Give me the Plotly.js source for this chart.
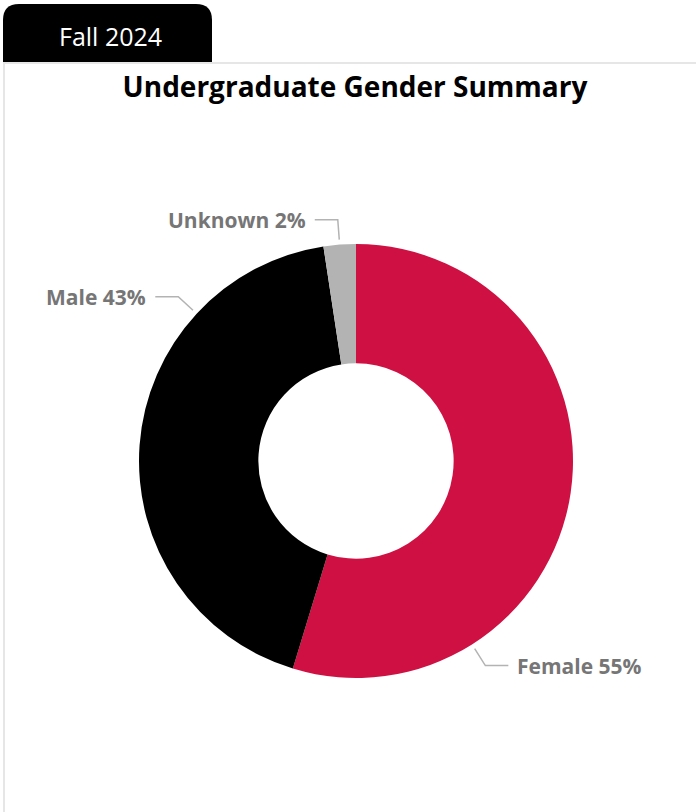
<!DOCTYPE html>
<html>
<head>
<meta charset="utf-8">
<script src="https://cdn.plot.ly/plotly-3.0.1.min.js"></script>
<style>
  html, body { margin: 0; padding: 0; background: #ffffff; }
  #chart { width: 696px; height: 812px; }
</style>
</head>
<body>
<div id="chart"></div>
<script>
// ---- data ----
var categories = ["Female", "Male", "Unknown"];
var shares = [54.7, 42.9, 2.4];
var sliceColors = ["#CF1043", "#000000", "#B3B3B3"];
var periodLabel = "Fall 2024";
var chartTitle = "Undergraduate Gender Summary";

// ---- layout config ----
var W = 696, H = 812;
var cx = 356, cy = 461, R = 217;
var labelFrac = [0.75, 0.75, 0.5];   // where along each slice the leader line starts
var FONT = "'Open Sans', 'Noto Sans', sans-serif";

function px(x) { return x / W; }
function py(y) { return 1 - y / H; }

var total = shares.reduce(function (a, b) { return a + b; }, 0);
var shapes = [];
var annotations = [];

// panel border
shapes.push({
  type: "path", xref: "paper", yref: "paper", layer: "above",
  path: "M " + px(4) + "," + py(H + 5) + " L " + px(4) + "," + py(63) + " L " + px(W + 5) + "," + py(63),
  line: { color: "#E6E6E6", width: 2 }
});
// tab
var tx0 = 3, tx1 = 212, ty0 = 4, ty1 = 62, rr = 16;
shapes.push({
  type: "path", xref: "paper", yref: "paper", layer: "above",
  path: "M " + px(tx0) + "," + py(ty1) +
        " L " + px(tx0) + "," + py(ty0 + rr) +
        " Q " + px(tx0) + "," + py(ty0) + " " + px(tx0 + rr) + "," + py(ty0) +
        " L " + px(tx1 - rr) + "," + py(ty0) +
        " Q " + px(tx1) + "," + py(ty0) + " " + px(tx1) + "," + py(ty0 + rr) +
        " L " + px(tx1) + "," + py(ty1) + " Z",
  fillcolor: "#000000", line: { width: 0 }
});
annotations.push({
  xref: "paper", yref: "paper", x: px(110), y: py(36), xanchor: "center", yanchor: "middle",
  text: periodLabel, showarrow: false,
  font: { family: FONT, size: 25, color: "#FFFFFF" }
});

// leader lines + labels derived from slice angles
var cum = 0;
for (var i = 0; i < shares.length; i++) {
  var startDeg = cum / total * 360;
  var spanDeg = shares[i] / total * 360;
  cum += shares[i];
  var a = (startDeg + labelFrac[i] * spanDeg) * Math.PI / 180;
  var sx = Math.sin(a), sy = -Math.cos(a);
  var x0 = cx + (R + 5) * sx, y0 = cy + (R + 5) * sy;
  var x1 = cx + (R + 25) * sx, y1 = cy + (R + 25) * sy;
  var dir = sx >= 0 ? 1 : -1;
  var x2 = x1 + dir * 23;
  shapes.push({
    type: "path", xref: "paper", yref: "paper", layer: "above",
    path: "M " + px(x0) + "," + py(y0) + " L " + px(x1) + "," + py(y1) + " L " + px(x2) + "," + py(y1),
    line: { color: "#B3B3B3", width: 1.5 }
  });
  annotations.push({
    xref: "paper", yref: "paper", x: px(x2 + dir * 7), y: py(y1),
    xanchor: dir > 0 ? "left" : "right", yanchor: "middle",
    text: "<b>" + categories[i] + " " + Math.round(shares[i] / total * 100) + "%</b>",
    showarrow: false,
    font: { family: FONT, size: 21, color: "#767676" }
  });
}

var trace = {
  type: "pie",
  labels: categories,
  values: shares,
  marker: { colors: sliceColors, line: { width: 0 } },
  hole: 0.45,
  sort: false,
  direction: "clockwise",
  rotation: 0,
  textinfo: "none",
  showlegend: false,
  domain: { x: [px(cx - R), px(cx + R)], y: [py(cy + R), py(cy - R)] }
};

var layout = {
  width: W, height: H,
  margin: { l: 0, r: 0, t: 0, b: 0 },
  paper_bgcolor: "#FFFFFF",
  title: {
    text: "<b>" + chartTitle + "</b>",
    x: px(355), xanchor: "center", xref: "paper",
    y: py(87), yanchor: "middle", yref: "paper",
    font: { family: FONT, size: 28, color: "#000000" }
  },
  shapes: shapes,
  annotations: annotations
};

Plotly.newPlot("chart", [trace], layout, { displayModeBar: false, staticPlot: true });
</script>
</body>
</html>
